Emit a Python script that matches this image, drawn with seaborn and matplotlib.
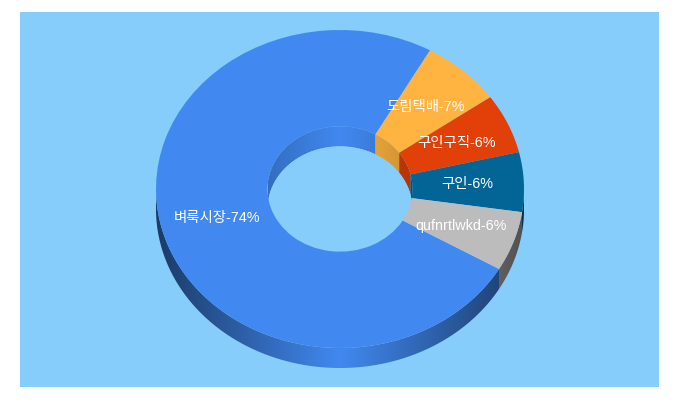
#!/usr/bin/env python3
import numpy as np
import seaborn as sns
import matplotlib
matplotlib.use('Agg')
import matplotlib.pyplot as plt
from matplotlib.patches import Ellipse, PathPatch
from matplotlib.path import Path

# -------------------------------
# Data
# -------------------------------
sites = ['벼룩시장', '도림택배', '구인구직', '구인', 'qufnrtlwkd']
shares = [74, 7, 6, 6, 6]
colors = ['#4189f0', '#ffb340', '#e14108', '#036595', '#bdbcbc']

sns.set_theme(style='white')
plt.rcParams['font.family'] = ['Liberation Sans', 'Noto Sans CJK KR', 'DejaVu Sans']

background = '#87cdfb'
W, H = 680, 400
# panel and ellipse geometry, in pixels
px0, px1, py0, py1 = 20, 659, 12, 387
cx, cy, rx, ry = 340, 189, 184, 159
depth = 20 / ry
hole = 0.394

fig = plt.figure(figsize=(W / 100, H / 100), dpi=100, facecolor='white')
ax = fig.add_axes([px0 / W, 1 - py1 / H, (px1 - px0) / W, (py1 - py0) / H])

labels = [f'{s}-{v}%' for s, v in zip(sites, shares)]
wedges, texts = ax.pie(
    shares,
    labels=labels,
    colors=sns.color_palette(colors),
    startangle=-30.2,
    counterclock=False,
    labeldistance=0.695,
    wedgeprops=dict(width=1 - hole, linewidth=0),
    textprops=dict(color='white', fontsize=10.4),
    radius=1,
)
for t in texts:
    t.set_ha('center')
    t.set_va('center')
    t.set_zorder(6)
for w in wedges:
    w.set_zorder(3)

ax.set_frame_on(True)
ax.set_facecolor(background)
for s in ax.spines.values():
    s.set_visible(False)
xlim = ((px0 - cx) / rx, (px1 - cx) / rx)
ylim = ((cy - py1) / ry, (cy - py0) / ry)


def gradient_wall(color, radius, strength, thetas):
    # horizontal shading: full colour in the middle, darker towards the sides
    xs = radius * np.cos(thetas)
    ys = radius * np.sin(thetas)
    verts = np.vstack([np.column_stack([xs, ys]),
                       np.column_stack([xs[::-1], ys[::-1] - depth])])
    grad_x = np.linspace(-radius, radius, 400)
    factor = 1 - strength * np.abs(grad_x) / radius
    rgb = np.array(matplotlib.colors.to_rgb(color))
    img = (rgb[None, None, :] * factor[None, :, None]).clip(0, 1)
    im = ax.imshow(img, extent=(-radius, radius, -1.5, 1.5), aspect='auto',
                   interpolation='bilinear', zorder=1)
    im.set_clip_path(PathPatch(Path(np.vstack([verts, verts[:1]]), closed=True),
                               transform=ax.transData))


# extruded walls follow the pie's own wedge angles
for wedge, color in zip(wedges, colors):
    angles = np.radians(np.arange(wedge.theta1, wedge.theta2 + 0.25, 0.25))
    angles = np.append(angles, np.radians(wedge.theta2))
    sin = np.sin(angles)
    front = angles[sin <= 0.01]
    back = angles[sin >= -0.01]
    if len(front) > 1:
        gradient_wall(color, 1.0, 0.57, front)
    if len(back) > 1:
        # a wedge can touch both ends of the back half
        gaps = np.where(np.diff(back) > 0.1)[0]
        for part in np.split(back, gaps + 1):
            if len(part) > 1:
                gradient_wall(color, hole, 0.2, part)

# see-through part of the hole; the top face covers the wall overflow
hole_clip = Ellipse((0, 0), 2 * hole, 2 * hole, transform=ax.transData)
floor = Ellipse((0, -depth), 2 * hole, 2 * hole, facecolor=background, lw=0, zorder=2)
ax.add_patch(floor)
floor.set_clip_path(hole_clip)

ax.set_aspect('auto')
ax.set_xlim(*xlim)
ax.set_ylim(*ylim)

fig.savefig('out.png', dpi=100, facecolor='white')
